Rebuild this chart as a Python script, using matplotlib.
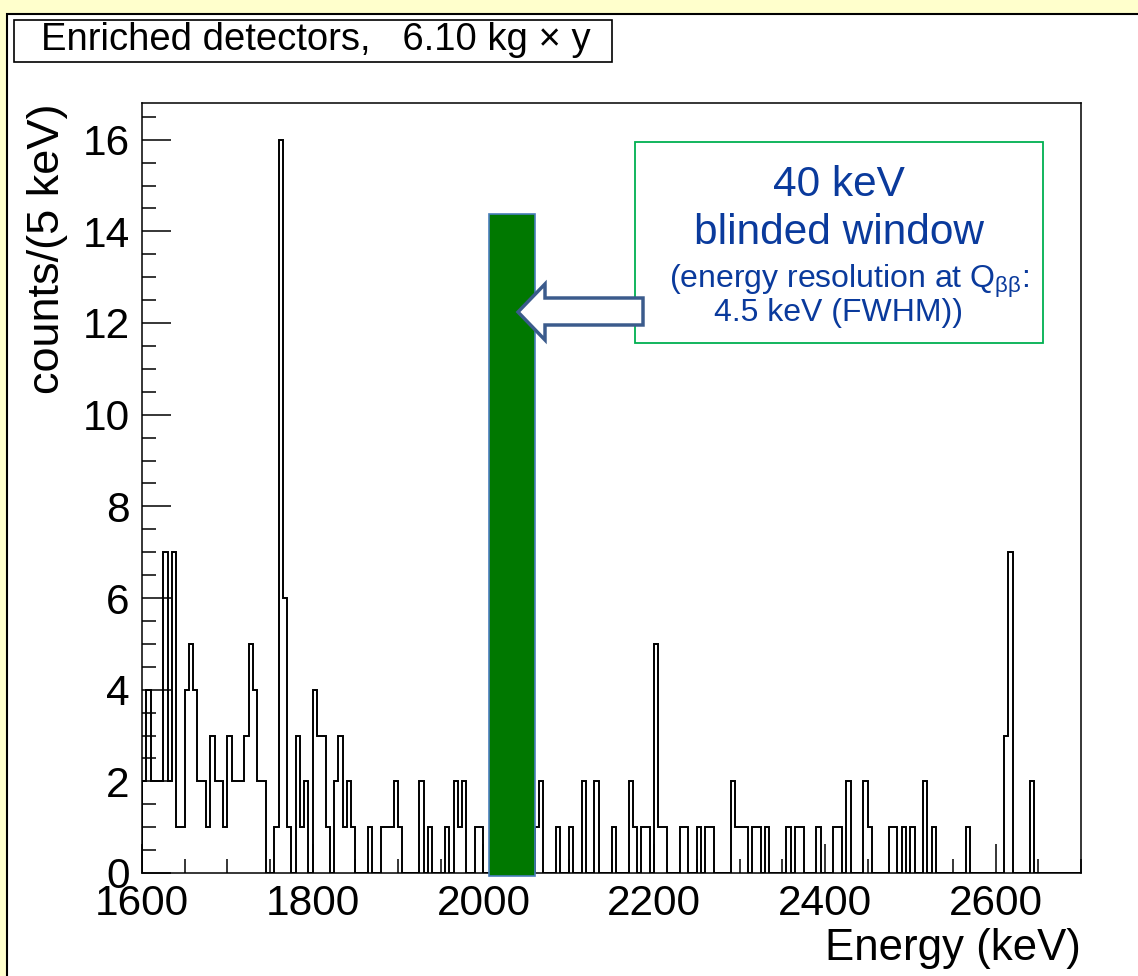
import numpy as np
import matplotlib
matplotlib.use('Agg')
import matplotlib.pyplot as plt
from matplotlib.patches import Rectangle, Polygon
from matplotlib.ticker import MultipleLocator

plt.rcParams['font.family'] = ['Liberation Sans', 'DejaVu Sans']

# ---------------- data ----------------
bin_low = 1600      # keV
bin_width = 5       # keV
counts = [
    2, 4, 2, 2, 2, 7, 2, 7, 1, 1,      # 1600-1645
    4, 5, 4, 2, 2, 1, 3, 2, 2, 1,      # 1650-1695
    3, 2, 2, 2, 3, 5, 4, 2, 2, 0,      # 1700-1745
    0, 1, 16, 6, 1, 0, 3, 1, 2, 0,     # 1750-1795
    4, 3, 3, 1, 0, 2, 3, 1, 2, 1,      # 1800-1845
    0, 0, 0, 1, 0, 0, 1, 1, 1, 2,      # 1850-1895
    1, 0, 0, 0, 0, 2, 0, 1, 0, 0,      # 1900-1945
    0, 1, 0, 2, 1, 2, 0, 0, 1, 1,      # 1950-1995
    0, 0, 0, 0, 0, 0, 0, 0, 0, 0,      # 2000-2045 (hidden)
    0, 0, 1, 2, 0, 0, 0, 1, 0, 0,      # 2050-2095
    1, 0, 0, 2, 0, 0, 2, 0, 0, 0,      # 2100-2145
    1, 0, 0, 0, 2, 1, 0, 1, 1, 0,      # 2150-2195
    5, 1, 1, 0, 0, 0, 1, 1, 0, 0,      # 2200-2245
    1, 0, 1, 1, 0, 0, 0, 0, 2, 1,      # 2250-2295
    1, 1, 0, 1, 1, 0, 1, 0, 0, 0,      # 2300-2345
    0, 1, 0, 1, 1, 0, 0, 0, 1, 0,      # 2350-2395
    0, 0, 1, 1, 0, 2, 0, 0, 0, 2,      # 2400-2445
    1, 0, 0, 0, 0, 1, 1, 0, 1, 0,      # 2450-2495
    1, 0, 0, 2, 0, 1, 0, 0, 0, 0,      # 2500-2545
    0, 0, 0, 1, 0, 0, 0, 0, 0, 0,      # 2550-2595
    0, 0, 3, 7, 0, 0, 0, 0, 2, 0,      # 2600-2645
    0, 0, 0, 0, 0, 0, 0, 0, 0, 0,      # 2650-2695
]
edges = bin_low + bin_width * np.arange(len(counts) + 1)

blind_window = (2006, 2060)   # drawn extent of blinded window (keV)
blind_height = 14.37

x_range = (1600, 2700)
y_range = (0, 16.8)

title_text = "Enriched detectors,   6.10 kg × y"
xlabel = "Energy (keV)"
ylabel = "counts/(5 keV)"
note_lines = ["40 keV", "blinded window",
              r"(energy resolution at Q$_{\mathregular{ββ}}$:",
              "4.5 keV (FWHM))"]

# ---------------- figure ----------------
W, H = 1138, 976
fig = plt.figure(figsize=(W / 100, H / 100), dpi=100)
fig.patch.set_facecolor('#FFFFCC')

def fx(x):
    return x / W

def fy(y):
    return 1 - y / H

# white slide panel with black outline
fig.add_artist(Rectangle((fx(7), fy(H + 20)), fx(W + 20), (H + 20 - 14) / H,
                         transform=fig.transFigure, facecolor='white',
                         edgecolor='black', lw=1.5, zorder=0))

ax = fig.add_axes([fx(142), fy(873), fx(1081 - 142), (873 - 103) / H])
ax.set_facecolor('white')

ax.stairs(counts, edges, color='black', lw=1.4, baseline=0, zorder=2)

ax.add_patch(Rectangle((blind_window[0], -0.07), blind_window[1] - blind_window[0],
                       blind_height + 0.07, facecolor='#007800', edgecolor='#4a7ebb',
                       lw=1.2, clip_on=False, zorder=4))

ax.set_xlim(*x_range)
ax.set_ylim(*y_range)
ax.xaxis.set_major_locator(MultipleLocator(200))
ax.xaxis.set_minor_locator(MultipleLocator(50))
ax.yaxis.set_major_locator(MultipleLocator(2))
ax.yaxis.set_minor_locator(MultipleLocator(0.5))
ax.tick_params(which='both', direction='in', width=1.1, labelsize=30.5,
               top=False, right=False)
ax.tick_params(which='major', length=21)
ax.tick_params(which='minor', length=10)
ax.tick_params(axis='y', pad=9)
ax.tick_params(axis='x', pad=8)
for s in ax.spines.values():
    s.set_linewidth(1.1)

ax.set_xlabel(xlabel, fontsize=31.5, loc='right', labelpad=3)
ax.set_ylabel(ylabel, fontsize=32.5, loc='top', labelpad=10)

# title box
fig.add_artist(Rectangle((fx(14), fy(62)), fx(612 - 14), (62 - 20) / H,
                         transform=fig.transFigure, facecolor='white',
                         edgecolor='black', lw=1.2, zorder=5))
fig.text(fx(316), fy(40), title_text, fontsize=27.5, ha='center', va='center',
         zorder=6)

# annotation box
fig.add_artist(Rectangle((fx(635), fy(343)), fx(1043 - 635), (343 - 142) / H,
                         transform=fig.transFigure, facecolor='white',
                         edgecolor='#00B050', lw=1.3, zorder=5))
blue = '#0A3A9C'
fig.text(fx(839), fy(185), note_lines[0], fontsize=30.5, color=blue,
         ha='center', va='center', zorder=6)
fig.text(fx(839), fy(233), note_lines[1], fontsize=30.5, color=blue,
         ha='center', va='center', zorder=6)
fig.text(fx(849), fy(281), note_lines[2], fontsize=23, color=blue,
         ha='center', va='center', zorder=6)
fig.text(fx(839), fy(313), note_lines[3], fontsize=23, color=blue,
         ha='center', va='center', zorder=6)

# hollow block arrow pointing at the blinded window
arrow_px = [(518, 312), (545, 284), (545, 298), (643, 298), (643, 325),
            (545, 325), (545, 340)]
fig.add_artist(Polygon([(fx(x), fy(y)) for x, y in arrow_px], closed=True,
                       transform=fig.transFigure, facecolor='white',
                       edgecolor='#3B5B8C', lw=2.5, zorder=7))

fig.savefig('out.png', dpi=100, facecolor=fig.get_facecolor())
